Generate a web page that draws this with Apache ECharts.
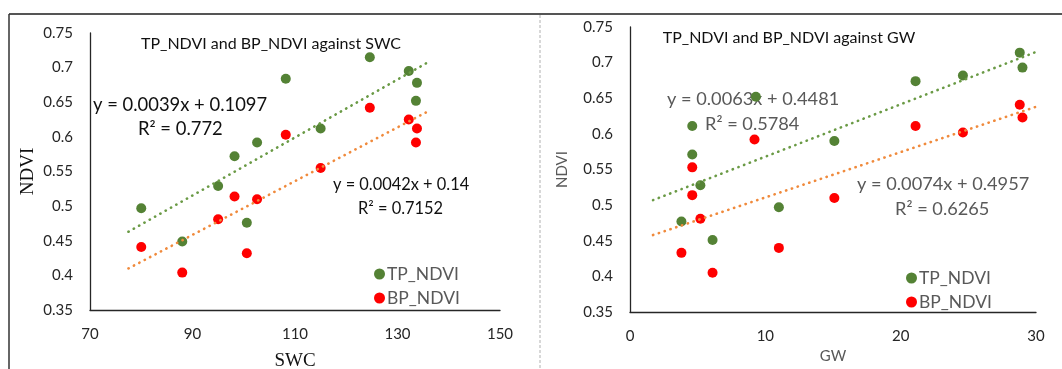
<!DOCTYPE html>
<html><head><meta charset="utf-8">
<script src="https://cdn.jsdelivr.net/npm/echarts@6/dist/echarts.min.js"></script>
<style>html,body{margin:0;padding:0;background:#fff}#c{width:1062px;height:369px}</style>
</head><body><div id="c"></div>
<script>
// Left panel: NDVI vs SWC
const swc = [80, 88, 95, 98.2, 100.6, 102.6, 108.2, 115, 124.6, 132.2, 133.8, 133.6];
const swcTP = [0.497, 0.449, 0.529, 0.572, 0.476, 0.592, 0.684, 0.612, 0.715, 0.695, 0.678, 0.652];
const swcBP = [0.441, 0.404, 0.481, 0.514, 0.432, 0.510, 0.603, 0.555, 0.642, 0.625, 0.612, 0.592];
const swcTrendX = [77.5, 136];
const swcTrendTP = [0.463, 0.708];
const swcTrendBP = [0.410, 0.637];
// Right panel: NDVI vs GW
const gwTP_x = [3.8, 4.6, 4.6, 5.2, 6.1, 9.3, 11.0, 15.1, 21.1, 24.6, 28.8, 29.0];
const gwTP = [0.477, 0.611, 0.571, 0.528, 0.451, 0.652, 0.497, 0.590, 0.674, 0.682, 0.714, 0.693];
const gwBP_x = [3.8, 4.6, 4.6, 5.2, 6.1, 9.2, 11.0, 15.1, 21.1, 24.6, 28.8, 29.0];
const gwBP = [0.433, 0.553, 0.514, 0.481, 0.405, 0.592, 0.440, 0.510, 0.611, 0.602, 0.641, 0.623];
const gwTrendX = [1.7, 30];
const gwTrendTP = [0.507, 0.715];
const gwTrendBP = [0.458, 0.638];
const yTicks = [0.35, 0.4, 0.45, 0.5, 0.55, 0.6, 0.65, 0.7, 0.75];
const swcTicks = [70, 90, 110, 130, 150];
const gwTicks = [0, 10, 20, 30];

const zip = (xs, ys) => xs.map((x, i) => [x, ys[i]]);
const GREEN = '#548235', RED = '#ff0000', TGREEN = '#6a9a45', TORANGE = '#f08a3c';
const F = 'Lato, "Open Sans", sans-serif';

function xAx(idx, ticks, name, nameStyle, gap) {
  return { gridIndex: idx, type: 'value', min: ticks[0], max: ticks[ticks.length - 1],
    interval: ticks[1] - ticks[0],
    axisLine: { show: true, lineStyle: { color: '#262626', width: 1.3 } },
    axisTick: { show: false }, splitLine: { show: false },
    axisLabel: { color: '#262626', fontSize: 15, fontFamily: F, margin: 17 },
    name, nameLocation: 'middle', nameGap: gap, nameTextStyle: nameStyle };
}
function yAx(idx, name, nameStyle, gap) {
  return { gridIndex: idx, type: 'value', min: yTicks[0], max: yTicks[yTicks.length - 1], interval: 0.05,
    axisLine: { show: true, lineStyle: { color: '#262626', width: 1.3 } },
    axisTick: { show: false }, splitLine: { show: false },
    axisLabel: { color: '#262626', fontSize: 15, fontFamily: F, margin: 17,
      formatter: v => String(+v.toFixed(2)) },
    name, nameLocation: 'middle', nameRotate: 90, nameGap: gap, nameTextStyle: nameStyle };
}
function scatter(name, xi, data, color) {
  return { type: 'scatter', name, xAxisIndex: xi, yAxisIndex: xi, data, symbolSize: 10,
    itemStyle: { color, opacity: 1 }, z: 2, silent: true };
}
function trend(xi, data, color) {
  return { type: 'line', xAxisIndex: xi, yAxisIndex: xi, data, symbol: 'none', z: 5, silent: true,
    lineStyle: { color, width: 2.6, type: [0.3, 5.8], cap: 'round' } };
}
function txt(x, y, s, size, color, align) {
  return { type: 'text', x, y, style: { text: s, fontSize: size, fontFamily: F,
    fill: color, textAlign: align || 'left', textVerticalAlign: 'middle' } };
}
function legend(left, top) {
  return { data: ['TP_NDVI', 'BP_NDVI'], orient: 'vertical', left, top, itemGap: 6,
    icon: 'circle', itemWidth: 11, itemHeight: 11, selectedMode: false,
    textStyle: { fontSize: 17.5, fontFamily: F, color: '#595959', padding: [0, 0, 0, -3] } };
}

const chart = echarts.init(document.getElementById('c'), null, { renderer: 'canvas' });
chart.setOption({
  animation: false,
  grid: [
    { left: 90, top: 33, width: 410, height: 277, outerBoundsMode: 'none', containLabel: false },
    { left: 630, top: 27, width: 406, height: 285, outerBoundsMode: 'none', containLabel: false }
  ],
  xAxis: [
    xAx(0, swcTicks, 'SWC', { fontFamily: '"Liberation Serif", serif', fontSize: 19, color: '#111' }, 42),
    xAx(1, gwTicks, 'GW', { fontFamily: F, fontSize: 15, color: '#595959' }, 35)
  ],
  yAxis: [
    yAx(0, 'NDVI', { fontFamily: '"Liberation Serif", serif', fontSize: 19, color: '#111' }, 52),
    yAx(1, 'NDVI', { fontFamily: F, fontSize: 15, color: '#595959' }, 60)
  ],
  legend: [legend(369, 260), legend(901, 264)],
  series: [
    scatter('TP_NDVI', 0, zip(swc, swcTP), GREEN),
    scatter('BP_NDVI', 0, zip(swc, swcBP), RED),
    trend(0, zip(swcTrendX, swcTrendTP), TGREEN),
    trend(0, zip(swcTrendX, swcTrendBP), TORANGE),
    scatter('TP_NDVI', 1, zip(gwTP_x, gwTP), GREEN),
    scatter('BP_NDVI', 1, zip(gwBP_x, gwBP), RED),
    trend(1, zip(gwTrendX, gwTrendTP), TGREEN),
    trend(1, zip(gwTrendX, gwTrendBP), TORANGE)
  ],
  graphic: [
    { type: 'line', shape: { x1: 9, y1: 14, x2: 1062, y2: 14 }, style: { stroke: '#555', lineWidth: 2 } },
    { type: 'line', shape: { x1: 9, y1: 14, x2: 9, y2: 369 }, style: { stroke: '#333', lineWidth: 1.5 } },
    { type: 'line', shape: { x1: 540, y1: 15, x2: 540, y2: 369 }, style: { stroke: '#b0b0b0', lineWidth: 1, lineDash: [3, 2] } },
    txt(271, 44, 'TP_NDVI and BP_NDVI against SWC', 16, '#111', 'center'),
    txt(93, 105, 'y = 0.0039x + 0.1097', 18.4, '#111'),
    txt(138, 129, 'R² = 0.772', 18.4, '#111'),
    txt(333, 185, 'y = 0.0042x + 0.14', 16.4, '#111'),
    txt(358, 209, 'R² = 0.7152', 16.4, '#111'),
    txt(789, 38, 'TP_NDVI and BP_NDVI against GW', 16, '#111', 'center'),
    txt(667, 99, 'y = 0.0063x + 0.4481', 18.2, '#595959'),
    txt(705, 124, 'R² = 0.5784', 18.2, '#595959'),
    txt(857, 184, 'y = 0.0074x + 0.4957', 18.2, '#595959'),
    txt(895, 209, 'R² = 0.6265', 18.2, '#595959')
  ]
});
</script></body></html>
